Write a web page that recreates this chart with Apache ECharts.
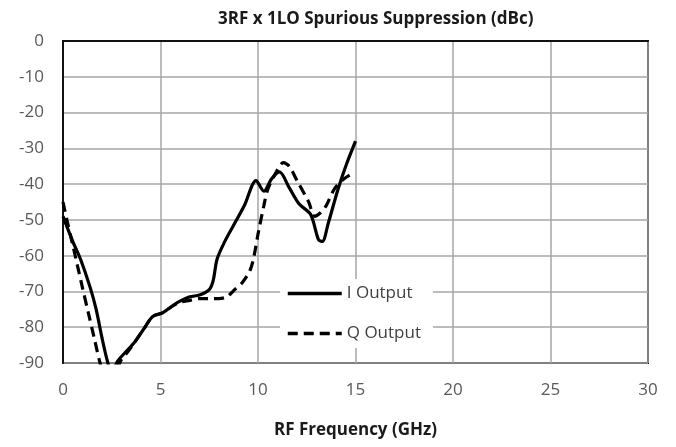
<!DOCTYPE html>
<html>
<head>
<meta charset="utf-8">
<script src="https://cdn.jsdelivr.net/npm/echarts@6/dist/echarts.min.js"></script>
<style>
  html, body { margin: 0; padding: 0; background: #fff; }
  #chart { width: 676px; height: 447px; }
</style>
</head>
<body>
<div id="chart"></div>
<script>
  // I output trace (GHz, dBc)
  var iFreq = [0, 0.5, 0.9, 1.4, 1.7, 2.0, 2.3, 2.5, 2.8, 3.2, 3.7, 4.2, 4.6, 5.1, 5.5, 5.9, 6.5, 7.0, 7.5, 7.7, 7.9, 8.3, 8.7, 9.3, 9.9, 10.3, 10.7, 11.1, 11.6, 12.1, 12.7, 13.1, 13.3, 13.6, 14.1, 14.5, 15.0];
  var iDbc  = [-49, -56, -61, -69, -75, -83, -90, -93, -89.5, -87, -84, -80, -77, -76, -74.5, -73, -71.5, -71, -69.5, -67, -61, -56, -52, -46, -39, -42, -38.5, -36.6, -41, -45.5, -48.5, -55.5, -56, -51, -41.5, -35, -28];

  // Q output trace (GHz, dBc)
  var qFreq = [0, 0.2, 0.5, 1.0, 1.3, 1.6, 1.9, 2.1, 2.7, 3.0, 3.3, 3.7, 4.2, 4.6, 5.1, 5.5, 6.0, 6.5, 7.0, 7.5, 8.0, 8.4, 8.8, 9.2, 9.6, 9.8, 10.0, 10.3, 10.5, 10.9, 11.3, 11.6, 12.0, 12.6, 12.9, 13.2, 13.5, 13.9, 14.3, 14.7];
  var qDbc  = [-45, -50, -57, -69, -76, -83, -90, -93, -92, -89, -87, -84, -80, -77, -76, -74.5, -73, -72.5, -72, -72, -72, -71.5, -69.5, -67.5, -64, -60, -54, -46, -41.5, -37, -34, -35, -39, -45, -49, -48, -46, -41.5, -39, -37.5];

  var xTicks = [0, 5, 10, 15, 20, 25, 30];
  var yTicks = [0, -10, -20, -30, -40, -50, -60, -70, -80, -90];

  function pairs(xs, ys) {
    return xs.map(function (x, i) { return [x, ys[i]]; });
  }

  var chart = echarts.init(document.getElementById('chart'));
  chart.setOption({
    animation: false,
    textStyle: { fontFamily: 'Open Sans' },
    title: {
      text: '3RF x 1LO Spurious Suppression (dBc)',
      left: 213,
      top: 6,
      textStyle: { fontSize: 17, fontWeight: 'bold', color: '#1a1a1a', fontFamily: 'Open Sans' }
    },
    grid: {
      left: 63, right: 28, top: 41, bottom: 84,
      show: true, borderColor: '#111', borderWidth: 2
    },
    legend: {
      orient: 'vertical',
      left: 280,
      top: 279,
      padding: [6, 12, 6, 6],
      backgroundColor: '#fff',
      itemWidth: 54,
      itemHeight: 14,
      itemGap: 23,
      itemStyle: { opacity: 0 },
      lineStyle: { width: 3.5 },
      textStyle: { fontSize: 17, color: '#404040', fontFamily: 'Open Sans' },
      data: ['I Output', 'Q Output']
    },
    xAxis: {
      type: 'value',
      min: xTicks[0], max: xTicks[xTicks.length - 1], interval: 5,
      name: 'RF Frequency (GHz)',
      nameLocation: 'middle',
      nameGap: 59,
      nameTextStyle: { fontSize: 17, fontWeight: 'bold', color: '#1a1a1a' },
      axisLine: { show: true, lineStyle: { color: '#111', width: 2 } },
      axisTick: { show: false },
      axisLabel: { fontSize: 17, color: '#595959', margin: 19 },
      splitLine: { show: true, lineStyle: { color: '#a6a6a6', width: 1.5 } }
    },
    yAxis: {
      type: 'value',
      min: yTicks[yTicks.length - 1], max: yTicks[0], interval: 10,
      axisLine: { show: true, lineStyle: { color: '#111', width: 2 } },
      axisTick: { show: false },
      axisLabel: { fontSize: 17, color: '#595959', margin: 19 },
      splitLine: { show: true, lineStyle: { color: '#a6a6a6', width: 1.5 } }
    },
    series: [
      {
        name: 'I Output',
        type: 'line',
        data: pairs(iFreq, iDbc),
        smooth: 0.3,
        symbol: 'none',
        clip: true,
        lineStyle: { color: '#000', width: 3.2 },
        itemStyle: { color: '#000' }
      },
      {
        name: 'Q Output',
        type: 'line',
        data: pairs(qFreq, qDbc),
        smooth: 0.3,
        symbol: 'none',
        clip: true,
        lineStyle: { color: '#000', width: 3.2, type: [10, 6] },
        itemStyle: { color: '#000' }
      }
    ]
  });
</script>
</body>
</html>
